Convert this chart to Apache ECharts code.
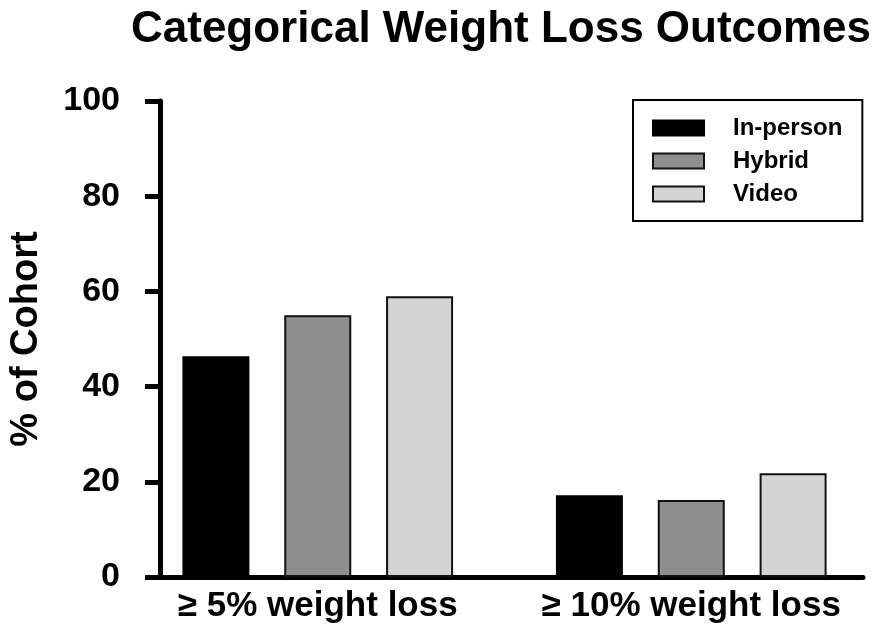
<!DOCTYPE html>
<html>
<head>
<meta charset="utf-8">
<title>Categorical Weight Loss Outcomes</title>
<script src="https://cdn.jsdelivr.net/npm/echarts@6.0.0/dist/echarts.min.js"></script>
<style>
    html, body {margin: 0; padding: 0; background: #fff;}
    #main {width: 886px; height: 629px;}
</style>
</head>
<body>
<div id="main"></div>
<script>
//数据
var categories = ['≥ 5% weight loss', '≥ 10% weight loss'];
var seriesNames = ['In-person', 'Hybrid', 'Video'];
var inPerson = [46.4, 17.2];
var hybrid = [55.0, 16.2];
var video = [59.0, 21.8];
var yTicks = [0, 20, 40, 60, 80, 100];

var fontName = 'Liberation Sans, Arial, sans-serif';

//每个系列的样式
function barSeries(name, data, fill, border) {
    return {
        name: name,
        type: 'bar',
        xAxisIndex: 1,
        yAxisIndex: 1,
        barWidth: 67,
        barGap: '52%',
        data: data,
        itemStyle: {
            color: fill,
            borderColor: border,
            borderWidth: 2
        }
    };
}

var myChart = echarts.init(document.getElementById('main'));
var option = {
    backgroundColor: '#fff',
    animation: false,
    title: {
        text: 'Categorical Weight Loss Outcomes',
        left: 126,
        top: 3,
        textStyle: {
            fontFamily: fontName,
            fontSize: 44,
            fontWeight: 'bold',
            color: '#000'
        }
    },
    legend: {
        orient: 'vertical',
        left: 633,
        top: 100,
        data: seriesNames,
        icon: 'rect',
        itemWidth: 51,
        itemHeight: 15,
        itemGap: 9,
        padding: [16, 20, 15, 19],
        borderColor: '#000',
        borderWidth: 2,
        backgroundColor: '#fff',
        textStyle: {
            fontFamily: fontName,
            fontSize: 24,
            fontWeight: 'bold',
            color: '#000',
            padding: [0, 0, 0, 24]
        }
    },
    //grid 0 画坐标轴, grid 1 画柱子
    grid: [
        {left: 147, right: 23, top: 101, bottom: 52},
        {left: 131, right: 8, top: 101, bottom: 52}
    ],
    xAxis: [
        {
            gridIndex: 0,
            type: 'value',
            min: 0,
            max: 1,
            axisLine: {show: true, lineStyle: {color: '#000', width: 5}},
            axisTick: {show: false},
            axisLabel: {show: false},
            splitLine: {show: false}
        },
        {
            gridIndex: 1,
            type: 'category',
            data: categories,
            axisLine: {show: false},
            axisTick: {show: false},
            axisLabel: {
                interval: 0,
                margin: 12,
                fontFamily: fontName,
                fontSize: 35,
                fontWeight: 'bold',
                color: '#000'
            }
        }
    ],
    yAxis: [
        {
            gridIndex: 0,
            type: 'value',
            min: yTicks[0],
            max: yTicks[yTicks.length - 1],
            interval: 20,
            name: '% of Cohort',
            nameLocation: 'middle',
            nameGap: 114,
            nameTextStyle: {
                fontFamily: fontName,
                fontSize: 38,
                fontWeight: 'bold',
                color: '#000'
            },
            axisLine: {show: true, lineStyle: {color: '#000', width: 5}},
            axisTick: {show: true, length: 15, lineStyle: {color: '#000', width: 5}},
            axisLabel: {
                margin: 40,
                fontFamily: fontName,
                fontSize: 34,
                fontWeight: 'bold',
                color: '#000'
            },
            splitLine: {show: false}
        },
        {
            gridIndex: 1,
            type: 'value',
            min: yTicks[0],
            max: yTicks[yTicks.length - 1],
            show: false
        }
    ],
    series: [
        barSeries(seriesNames[0], inPerson, '#000000', '#000000'),
        barSeries(seriesNames[1], hybrid, '#8f8f8f', '#111111'),
        barSeries(seriesNames[2], video, '#d4d4d4', '#111111')
    ]
};

// 使用刚指定的配置项和数据显示图表。
myChart.setOption(option);
</script>
</body>
</html>
